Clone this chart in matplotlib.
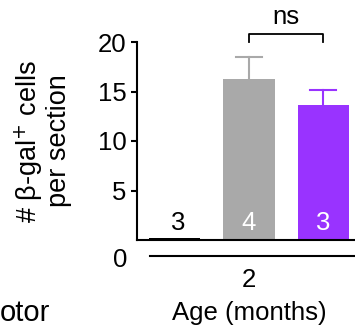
import matplotlib.pyplot as plt

plt.rcParams['font.family'] = ['Liberation Sans', 'DejaVu Sans']

# groups at 2 months
groups = ['ctrl', 'grey', 'purple']
means = [0.2, 16.3, 13.6]
errs = [0.0, 2.2, 1.6]
n_labels = ['3', '4', '3']
colors = ['#000000', '#a9a9a9', '#9933ff']
n_colors = ['black', 'white', 'white']
yticks = [5, 10, 15, 20]

FS = 18.5

fig = plt.figure(figsize=(3.55, 3.29), dpi=100)
ax = fig.add_axes([137 / 355, 89 / 329, 218 / 355, 198 / 329])

x = range(len(groups))
for i in x:
    ax.bar(i, means[i], width=0.69, color=colors[i], zorder=2)
    if errs[i] > 0:
        # upper error bar only
        top = means[i] + errs[i]
        ax.plot([i, i], [means[i], top], color=colors[i], lw=1.5, zorder=1)
        ax.plot([i - 0.175, i + 0.175], [top, top], color=colors[i], lw=1.5, zorder=1)
    # n per group
    ax.text(i + 0.04 if i == 0 else i, 1.7, n_labels[i], ha='center', va='center',
            fontsize=FS, color=n_colors[i])

ax.set_xlim(-0.51, 2.43)
ax.set_ylim(0, 20)
ax.set_yticks(yticks)
ax.set_yticklabels([str(t) for t in yticks], fontsize=FS)
ax.tick_params(axis='y', length=4.5, width=1.5, pad=3)
ax.set_xticks([])
for s in ['top', 'right']:
    ax.spines[s].set_visible(False)
ax.spines['left'].set_linewidth(1.5)
ax.spines['bottom'].set_linewidth(1.5)

# offset zero label
ax.text(-0.045, -2.0, '0', transform=ax.get_yaxis_transform(), ha='right', va='center',
        fontsize=FS)

# group line + age label
ax.plot([-0.34, 2.43], [-1.6, -1.6], color='black', lw=1.5, clip_on=False)
ax.text(1.0, -4.05, '2', ha='center', va='center', fontsize=FS)
ax.text(1.0, -7.4, 'Age (months)', ha='center', va='center', fontsize=FS)

# ns bracket
ax.plot([1, 1, 2, 2], [20.0, 20.85, 20.85, 20.0], color='black', lw=1.3, clip_on=False)
ax.text(1.5, 22.5, 'ns', ha='center', va='center', fontsize=FS)

ax.set_ylabel('# β-gal$^{+}$ cells\nper section', fontsize=19.5, linespacing=1.05)
ax.yaxis.set_label_coords(-0.30, 0.5)

# cut-off text from neighbouring panel
fig.text(0.0, 16 / 329, 'otor', ha='left', va='center', fontsize=21)

fig.savefig('out.png', dpi=100)
